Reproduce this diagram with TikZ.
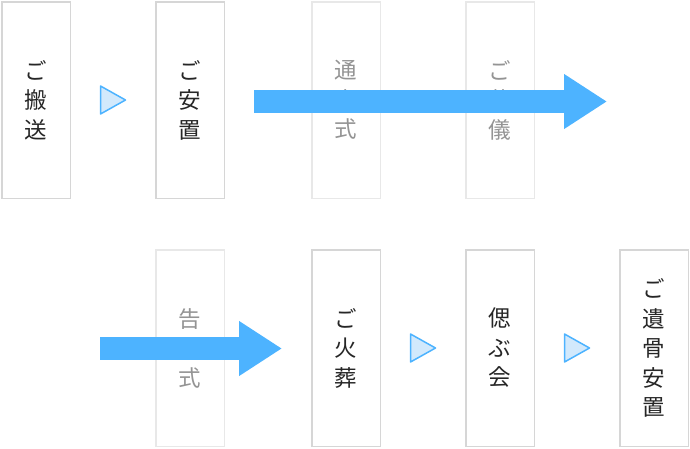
\documentclass[tikz,border=0pt]{standalone}
\usepackage{fontspec}
\newfontfamily\jpfont{Noto Sans CJK JP}
\usetikzlibrary{arrows.meta,calc}
\definecolor{framegray}{HTML}{D6D6D6}
\definecolor{fadegray}{HTML}{E8E8E8}
\definecolor{textdark}{HTML}{262626}
\definecolor{textfade}{HTML}{949494}
\definecolor{flowblue}{HTML}{4DB3FF}
\definecolor{trifill}{HTML}{D2E9FC}

\begin{document}
\begin{tikzpicture}[x=1pt, y=-1pt,
    stepbox/.style={draw=framegray, line width=1.5pt, fill=white, minimum width=68.5pt, minimum height=196.5pt, inner sep=0pt, align=center, text=textdark, font=\jpfont\fontsize{22.5}{29.5}\selectfont},
    skipbox/.style={stepbox, draw=fadegray, text=textfade},
    tri/.style={draw=flowblue, fill=trifill, line width=1.5pt, line join=round},
    bigarrow/.style={draw=flowblue, line width=23pt, -{Triangle[length=43pt, width=52pt]}}]
  \useasboundingbox (0,0) rectangle (690,448);
  \node [stepbox] (hanso) at (36,100) {ご\\搬\\送};
  \node [stepbox] (anchi) at (190,100) {ご\\安\\置};
  \node [skipbox] (tsuya) at (346,100) {通\\夜\\式};
  \node [skipbox] (sogi) at (500,100) {ご\\葬\\儀};
  \node [skipbox] (kokubetsu) at (190,348) {告\\別\\式};
  \node [stepbox] (kaso) at (346,348) {ご\\火\\葬};
  \node [stepbox] (shinobu) at (500,348) {偲\\ぶ\\会};
  \node [stepbox] (ikotsu) at (654,348) {ご\\遺\\骨\\安\\置};
  \draw [tri] ($(hanso.east)!.5!(anchi.west)$) ++(-12.5,-14) -- ++(25,14) -- ++(-25,14) -- cycle;
  \draw [tri] ($(kaso.east)!.5!(shinobu.west)$) ++(-12.5,-14) -- ++(25,14) -- ++(-25,14) -- cycle;
  \draw [tri] ($(shinobu.east)!.5!(ikotsu.west)$) ++(-12.5,-14) -- ++(25,14) -- ++(-25,14) -- cycle;
  \coordinate (skipA) at (254,101.5);
  \coordinate (skipB) at (607,101.5);
  \coordinate (skipC) at (100,348.5);
  \coordinate (skipD) at (282,348.5);
  \draw [bigarrow] (skipA) -- (skipB);
  \draw [bigarrow] (skipC) -- (skipD);
\end{tikzpicture}
\end{document}
